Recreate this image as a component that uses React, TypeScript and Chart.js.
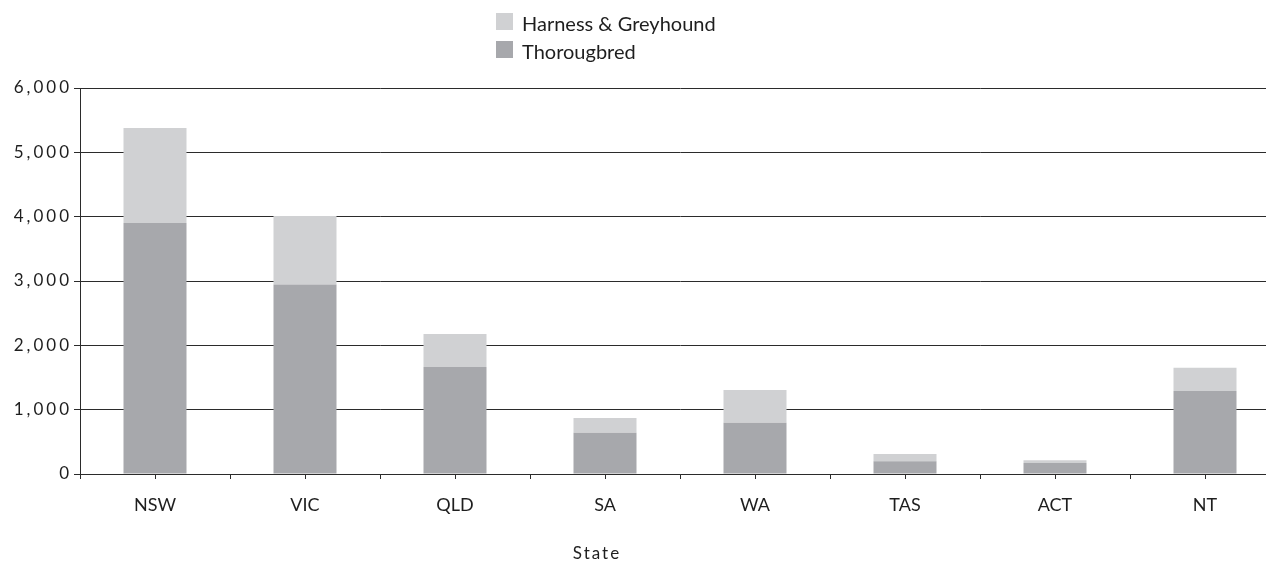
import React, { useEffect, useRef } from 'react';
import { Chart, registerables } from 'chart.js';

Chart.register(...registerables);

const states = ['NSW', 'VIC', 'QLD', 'SA', 'WA', 'TAS', 'ACT', 'NT'];
const thoroughbred = [3900, 2945, 1665, 640, 795, 200, 170, 1290];
const harnessGreyhound = [1480, 1065, 510, 230, 510, 110, 45, 360];
const seriesNames = ['Thorougbred', 'Harness & Greyhound'];
const axisTitle = 'State';

const darkGrey = '#a7a8ac';
const lightGrey = '#d0d1d3';
const lineColor = '#2b2b2b';
const FONT = 'Lato, "Noto Sans", sans-serif';

const spacingPlugin = {
  id: 'spacing',
  beforeDraw(chart: any) {
    chart.ctx.letterSpacing = '3px';
  },
  beforeDatasetsDraw(chart: any) {
    chart.ctx.letterSpacing = '0px';
  },
};

const extrasPlugin = {
  id: 'extras',
  afterDraw(chart: any) {
    const ctx = chart.ctx;
    const xs = chart.scales.x;
    const area = chart.chartArea;
    ctx.save();
    // centre ticks
    ctx.strokeStyle = lineColor;
    ctx.lineWidth = 1;
    for (let i = 0; i < states.length; i++) {
      const px = Math.round(xs.getPixelForValue(i)) + 0.5;
      ctx.beginPath();
      ctx.moveTo(px, area.bottom);
      ctx.lineTo(px, area.bottom + 5);
      ctx.stroke();
    }
    // legend (reverse order: top series first)
    const items = [
      { label: seriesNames[1], color: lightGrey },
      { label: seriesNames[0], color: darkGrey },
    ];
    ctx.font = '20px ' + FONT;
    ctx.textBaseline = 'middle';
    ctx.textAlign = 'left';
    items.forEach((it, k) => {
      const y = 13 + k * 28;
      ctx.fillStyle = it.color;
      ctx.fillRect(496, y, 17, 17);
      ctx.fillStyle = '#1e1e1e';
      ctx.fillText(it.label, 522, y + 12);
    });
    // axis title
    ctx.letterSpacing = '2px';
    ctx.font = '17px ' + FONT;
    ctx.textAlign = 'center';
    ctx.textBaseline = 'alphabetic';
    ctx.fillStyle = '#1e1e1e';
    ctx.fillText(axisTitle, 597, 559);
    ctx.restore();
  },
};

export default function App() {
  const ref = useRef<HTMLCanvasElement>(null);
  useEffect(() => {
    if (!ref.current) return;
    const chart = new Chart(ref.current, {
      type: 'bar',
      data: {
        labels: states,
        datasets: [
          {
            label: seriesNames[0],
            data: thoroughbred,
            backgroundColor: darkGrey,
            borderWidth: 0,
          },
          {
            label: seriesNames[1],
            data: harnessGreyhound,
            backgroundColor: lightGrey,
            borderWidth: 0,
          },
        ],
      },
      options: {
        responsive: false,
        animation: false,
        devicePixelRatio: 1,
        layout: { padding: { top: 88, right: 20, left: 0, bottom: 0 } },
        datasets: { bar: { categoryPercentage: 1, barPercentage: 0.42 } },
        plugins: {
          legend: { display: false },
          tooltip: { enabled: false },
        },
        scales: {
          x: {
            stacked: true,
            afterFit: (s: any) => {
              s.height = 87;
            },
            grid: {
              offset: true,
              drawOnChartArea: false,
              drawTicks: true,
              tickLength: 5,
              color: lineColor,
            },
            border: { display: true, color: lineColor, width: 1 },
            ticks: {
              z: 1,
              padding: 15,
              color: '#1e1e1e',
              font: { family: FONT, size: 18 },
            },
          },
          y: {
            stacked: true,
            min: 0,
            max: 6000,
            afterFit: (s: any) => {
              s.width = 80;
            },
            grid: {
              color: lineColor,
              lineWidth: 1,
              tickLength: 6,
              drawTicks: true,
            },
            border: { display: true, color: lineColor, width: 1 },
            ticks: {
              stepSize: 1000,
              padding: 2,
              color: '#1e1e1e',
              font: { family: FONT, size: 17 },
              callback: (v: any) => Number(v).toLocaleString('en-US'),
            },
          },
        },
      },
      plugins: [spacingPlugin, extrasPlugin],
    });
    return () => chart.destroy();
  }, []);
  return (
    <div style={{ position: 'fixed', left: 0, top: 0, width: 1266, height: 561, overflow: 'hidden', background: '#fff' }}>
      <canvas ref={ref} width={1300} height={561} style={{ display: 'block', width: 1300, height: 561 }} />
    </div>
  );
}
